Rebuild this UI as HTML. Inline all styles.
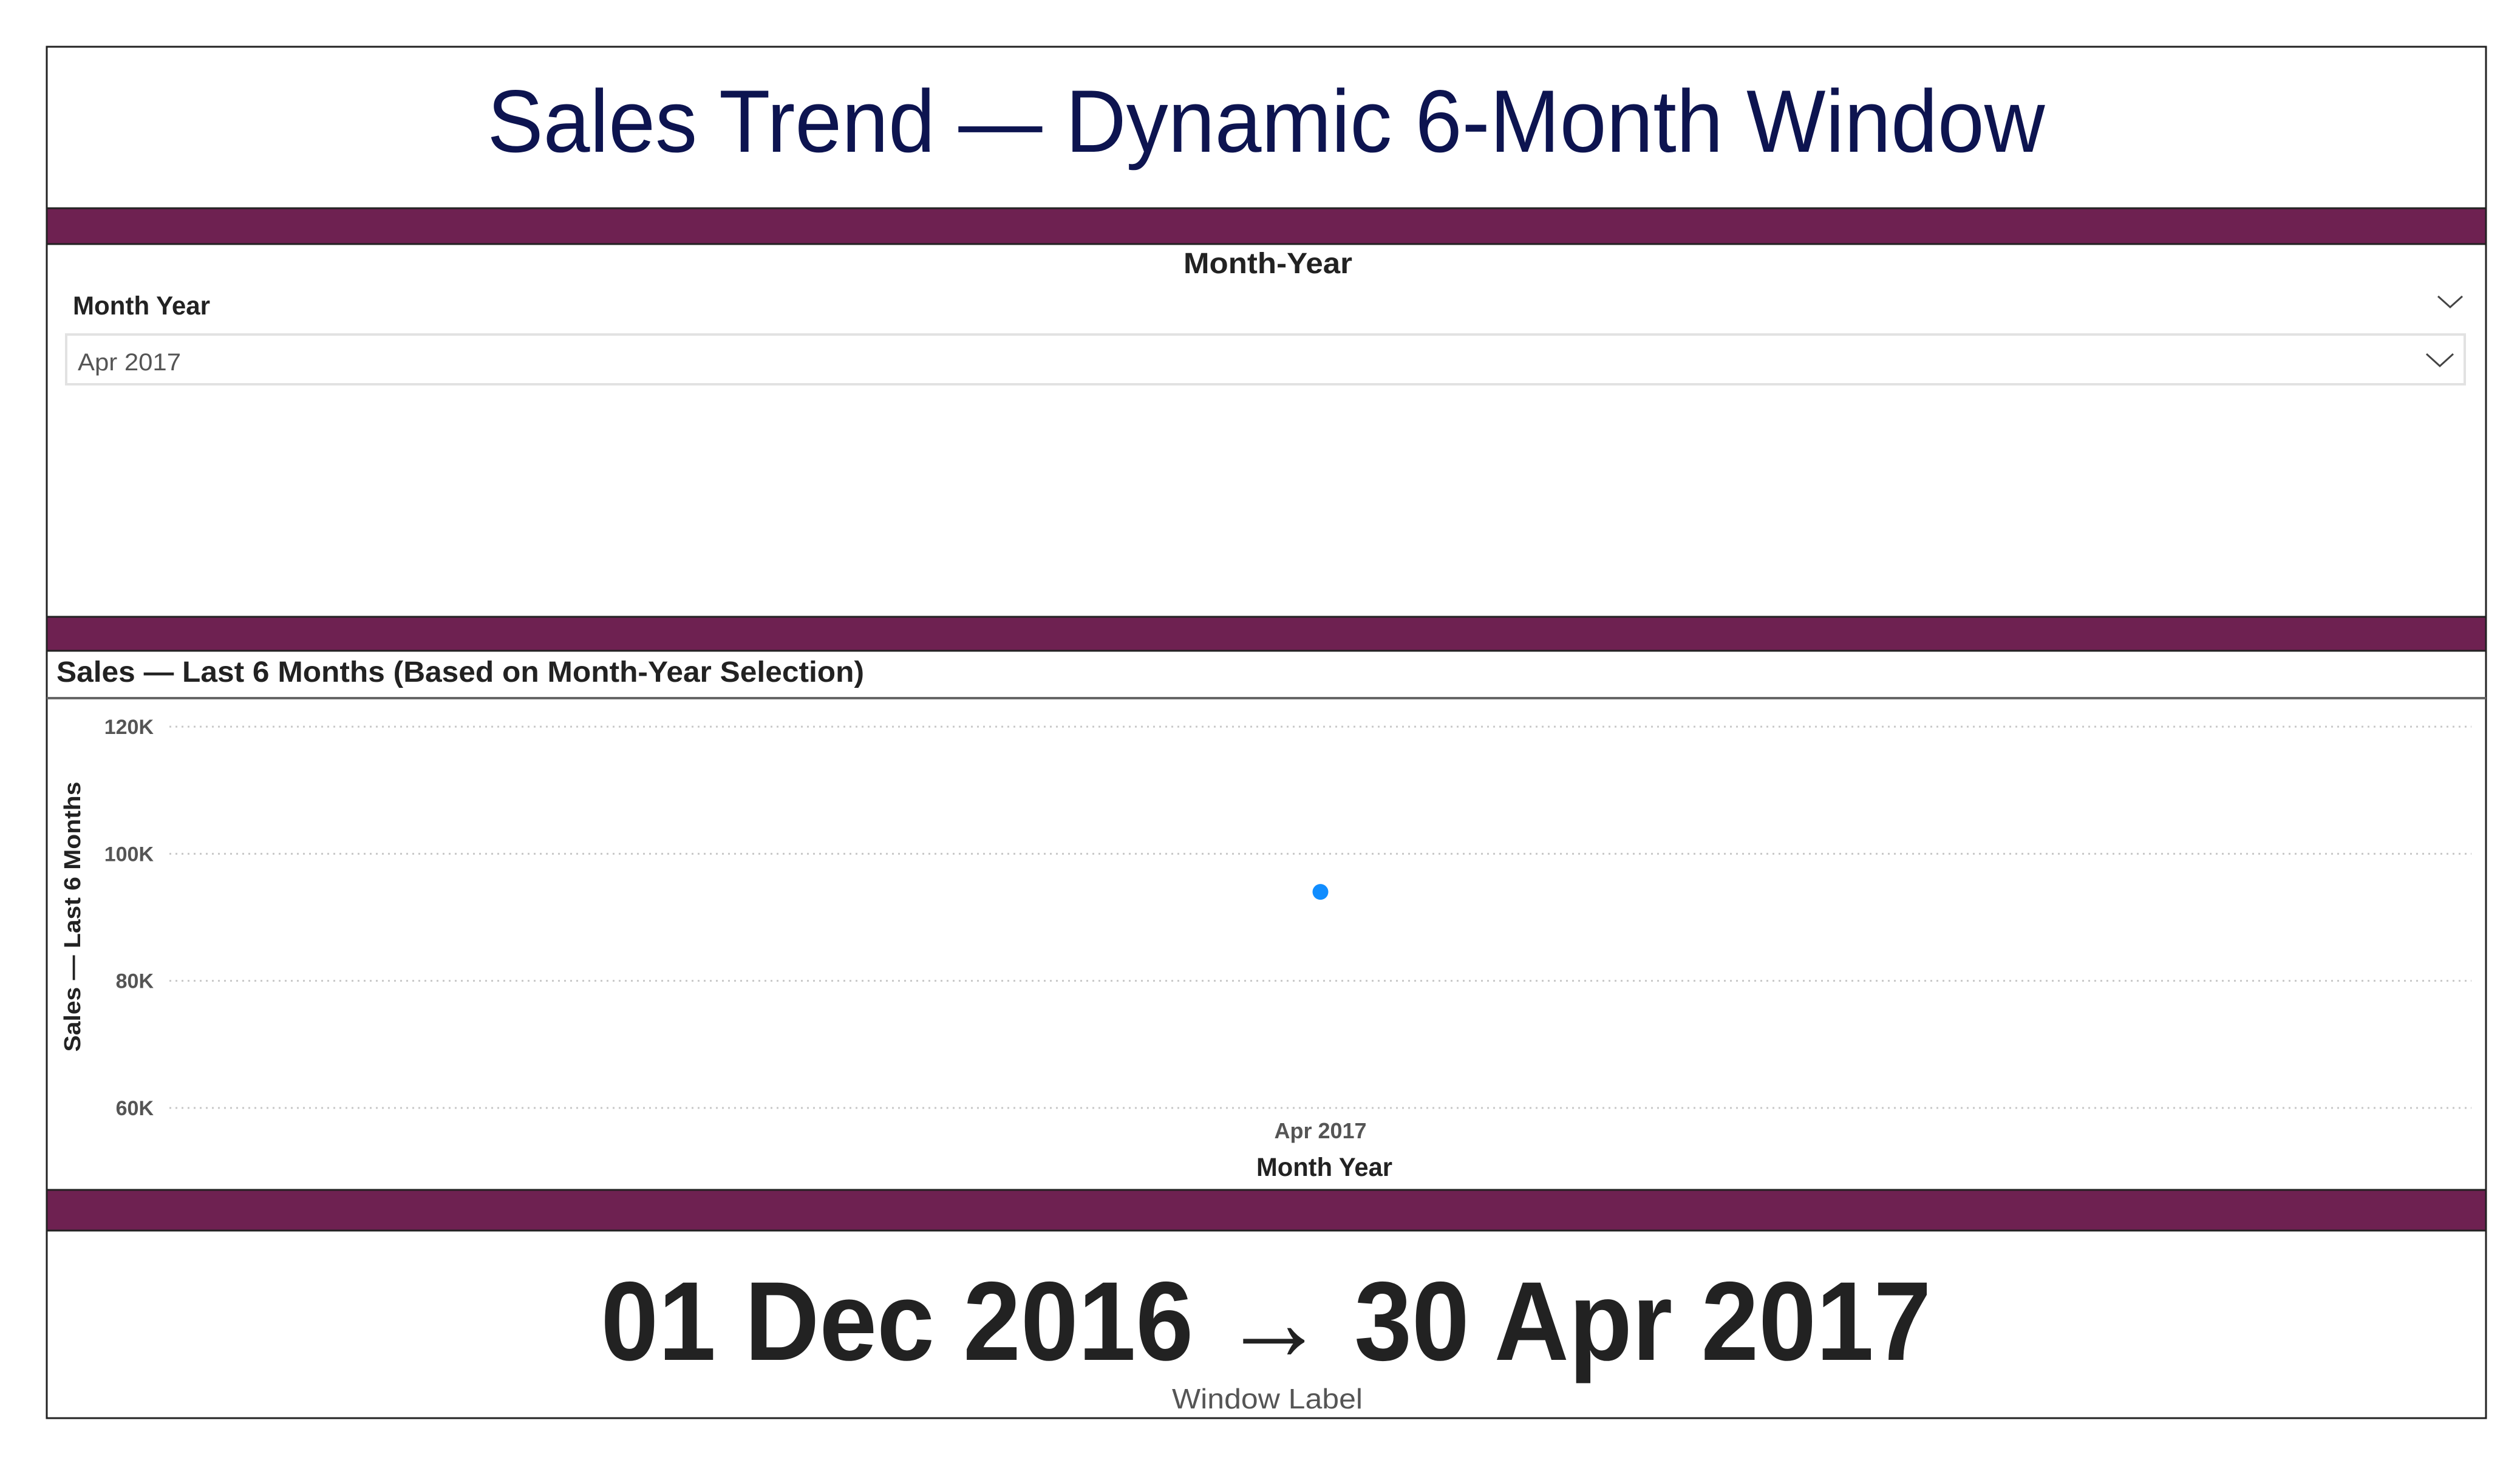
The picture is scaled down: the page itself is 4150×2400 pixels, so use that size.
<!DOCTYPE html>
<html><head><meta charset="utf-8"><style>
html,body{margin:0;padding:0;background:#fff;}
svg{display:block;font-family:"Liberation Sans",sans-serif;}
</style></head><body>
<svg width="4150" height="2400" viewBox="0 0 4150 2400">
  <rect x="0" y="0" width="4150" height="2400" fill="#fff"/>
  <g>
    <rect x="77" y="77" width="4017" height="266" fill="#fff" stroke="#222" stroke-width="3"/>
    <text x="2085" y="250" text-anchor="middle" font-size="146" fill="#0d1450" textLength="2565" lengthAdjust="spacingAndGlyphs">Sales Trend — Dynamic 6-Month Window</text>
  </g>
  <rect x="77" y="343" width="4017" height="59" fill="#6e2151" stroke="#222" stroke-width="3"/>
  <g>
    <rect x="77" y="402" width="4017" height="614" fill="#fff" stroke="#222" stroke-width="3"/>
    <text x="2088" y="450" text-anchor="middle" font-size="48" font-weight="bold" fill="#222" textLength="278" lengthAdjust="spacingAndGlyphs">Month-Year</text>
    <text x="120" y="518" font-size="43" font-weight="bold" fill="#222" textLength="226" lengthAdjust="spacingAndGlyphs">Month Year</text>
    <path d="M4015 488 L4035 506 L4055 488" fill="none" stroke="#444" stroke-width="3"/>
    <rect x="109" y="551" width="3950" height="82" fill="#fff" stroke="#e2e2e2" stroke-width="4"/>
    <text x="128" y="610" font-size="40" fill="#555" textLength="170" lengthAdjust="spacingAndGlyphs">Apr 2017</text>
    <path d="M3996 583 L4018 603 L4040 583" fill="none" stroke="#444" stroke-width="3"/>
  </g>
  <rect x="77" y="1016" width="4017" height="56" fill="#6e2151" stroke="#222" stroke-width="3"/>
  <g>
    <rect x="77" y="1072" width="4017" height="888" fill="#fff" stroke="#222" stroke-width="3"/>
    <text x="93" y="1123" font-size="48" font-weight="bold" fill="#222" textLength="1330" lengthAdjust="spacingAndGlyphs">Sales — Last 6 Months (Based on Month-Year Selection)</text>
    <line x1="77" y1="1150" x2="4094" y2="1150" stroke="#666" stroke-width="4"/>
    <g id="grid"></g>
    <g id="marks"></g>
    <text transform="translate(132,1510) rotate(-90)" text-anchor="middle" font-size="38" font-weight="bold" fill="#222" textLength="445" lengthAdjust="spacingAndGlyphs">Sales — Last 6 Months</text>
    <text x="2181" y="1937" text-anchor="middle" font-size="43" font-weight="bold" fill="#222" textLength="224" lengthAdjust="spacingAndGlyphs">Month Year</text>
  </g>
  <rect x="77" y="1960" width="4017" height="67" fill="#6e2151" stroke="#222" stroke-width="3"/>
  <g>
    <rect x="77" y="2027" width="4017" height="309" fill="#fff" stroke="#222" stroke-width="3"/>
    <clipPath id="cardclip"><rect x="77" y="2027" width="4017" height="308"/></clipPath>
    <text x="2085" y="2240" text-anchor="middle" font-size="185" font-weight="bold" fill="#222" textLength="2191" lengthAdjust="spacingAndGlyphs">01 Dec 2016 → 30 Apr 2017</text>
    <text clip-path="url(#cardclip)" x="2087" y="2320" text-anchor="middle" font-size="46" fill="#555" textLength="314" lengthAdjust="spacingAndGlyphs">Window Label</text>
  </g>
</svg>
<script>
const categories = ["Apr 2017"];
const salesValues = [94000];
const yTicks = [60000, 80000, 100000, 120000];
const yTickLabels = ["60K", "80K", "100K", "120K"];

const NS = "http://www.w3.org/2000/svg";
const plotLeft = 279, plotRight = 4070;
const yMin = 60000, yMax = 120000, yBottomPx = 1825, yTopPx = 1197;
function yScale(v){ return yBottomPx - (v - yMin) / (yMax - yMin) * (yBottomPx - yTopPx); }
function xScale(i){ const w = (plotRight - plotLeft) / categories.length; return plotLeft + w * (i + 0.5); }

const grid = document.getElementById("grid");
yTicks.forEach(function(t, i){
  const y = yScale(t);
  const ln = document.createElementNS(NS, "line");
  ln.setAttribute("x1", plotLeft); ln.setAttribute("x2", plotRight);
  ln.setAttribute("y1", y); ln.setAttribute("y2", y);
  ln.setAttribute("stroke", "#c8c8c8"); ln.setAttribute("stroke-width", "3");
  ln.setAttribute("stroke-dasharray", "3 7");
  
  
  grid.appendChild(ln);
  const tx = document.createElementNS(NS, "text");
  tx.setAttribute("x", 253); tx.setAttribute("y", y + 12);
  tx.setAttribute("text-anchor", "end"); tx.setAttribute("font-size", "34");
  tx.setAttribute("font-weight", "bold"); tx.setAttribute("fill", "#555");
  tx.textContent = yTickLabels[i];
  
  
  grid.appendChild(tx);
});
const marks = document.getElementById("marks");
categories.forEach(function(c, i){
  const tx = document.createElementNS(NS, "text");
  tx.setAttribute("x", xScale(i)); tx.setAttribute("y", 1875);
  tx.setAttribute("text-anchor", "middle"); tx.setAttribute("font-size", "36");
  tx.setAttribute("font-weight", "bold"); tx.setAttribute("fill", "#555");
  tx.textContent = c;
  
  
  marks.appendChild(tx);
  const pt = document.createElementNS(NS, "circle");
  pt.setAttribute("cx", xScale(i)); pt.setAttribute("cy", yScale(salesValues[i]));
  pt.setAttribute("r", 13); pt.setAttribute("fill", "#118dff");
  
  
  marks.appendChild(pt);
});
</script>
</body></html>
